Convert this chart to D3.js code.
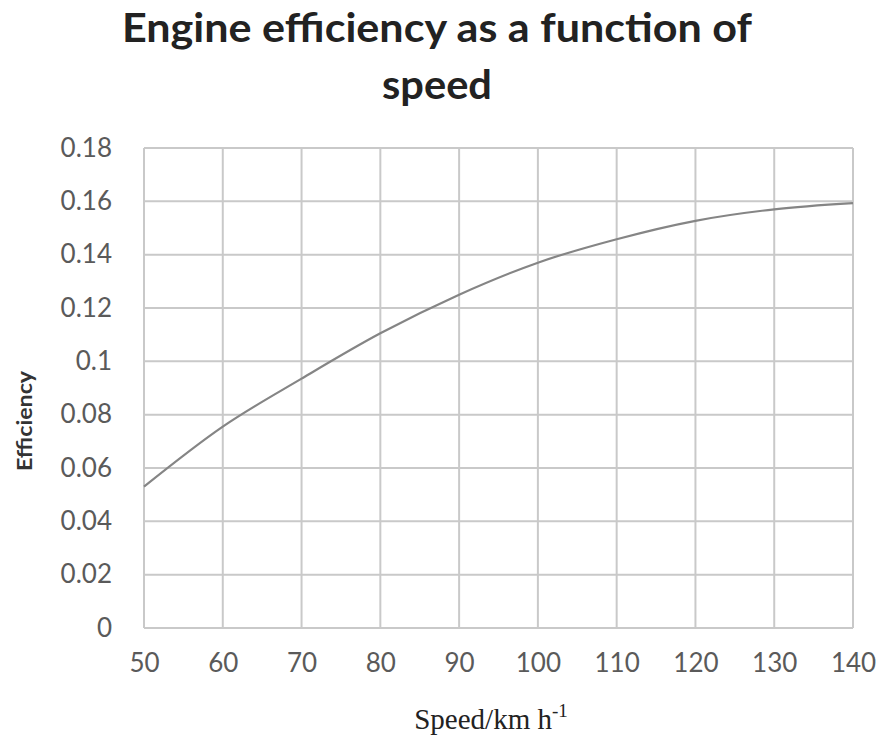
<!DOCTYPE html>
<html>
<head>
<meta charset="utf-8">
<script src="https://cdn.jsdelivr.net/npm/d3@7"></script>
<style>
  html, body { margin: 0; padding: 0; background: #fff; }
  svg { display: block; }
</style>
</head>
<body>
<svg id="chart" width="879" height="744"></svg>
<script>
// Speed (km/h) and engine efficiency
const speeds = [50, 60, 70, 80, 90, 100, 110, 120, 130, 140];
const efficiency = [0.053, 0.0755, 0.0935, 0.1105, 0.125, 0.137, 0.1458, 0.1527, 0.157, 0.1593];
const xTicks = [50, 60, 70, 80, 90, 100, 110, 120, 130, 140];
const yTicks = [0, 0.02, 0.04, 0.06, 0.08, 0.1, 0.12, 0.14, 0.16, 0.18];

const svg = d3.select("#chart");
const margin = { left: 144, right: 26, top: 148, bottom: 116 };
const W = 879, H = 744;
const innerW = W - margin.left - margin.right;
const innerH = H - margin.top - margin.bottom;

const x = d3.scaleLinear().domain([50, 140]).range([margin.left, margin.left + innerW]);
const y = d3.scaleLinear().domain([0, 0.18]).range([margin.top + innerH, margin.top]);

const gridColor = "#c9c9c9";
const labelColor = "#5a5a5a";
const sans = "Lato, 'Open Sans', sans-serif";

// Vertical grid lines
svg.append("g")
  .selectAll("line")
  .data(xTicks)
  .join("line")
  .attr("x1", d => x(d)).attr("x2", d => x(d))
  .attr("y1", y(0)).attr("y2", y(0.18))
  .attr("stroke", gridColor).attr("stroke-width", 2);

// Horizontal grid lines
svg.append("g")
  .selectAll("line")
  .data(yTicks)
  .join("line")
  .attr("x1", x(50)).attr("x2", x(140))
  .attr("y1", d => y(d)).attr("y2", d => y(d))
  .attr("stroke", gridColor).attr("stroke-width", 2);

// Y axis labels
const yAxis = d3.axisLeft(y).tickValues(yTicks).tickSize(0).tickPadding(32)
  .tickFormat(d => d === 0 ? "0" : String(+d.toFixed(2)));
svg.append("g")
  .attr("transform", `translate(${x(50)},0)`)
  .call(yAxis)
  .call(g => g.select(".domain").remove())
  .selectAll("text")
  .attr("font-family", sans)
  .attr("font-size", 26)
  .attr("fill", labelColor);

// X axis labels
const xAxis = d3.axisBottom(x).tickValues(xTicks).tickSize(0).tickPadding(26);
svg.append("g")
  .attr("transform", `translate(0,${y(0)})`)
  .call(xAxis)
  .call(g => g.select(".domain").remove())
  .selectAll("text")
  .attr("font-family", sans)
  .attr("font-size", 26)
  .attr("fill", labelColor);

// Efficiency curve
const line = d3.line()
  .x((d, i) => x(speeds[i]))
  .y(d => y(d))
  .curve(d3.curveMonotoneX);
svg.append("path")
  .datum(efficiency)
  .attr("d", line)
  .attr("fill", "none")
  .attr("stroke", "#858585")
  .attr("stroke-width", 2.2);

// Title
const title = svg.append("text")
  .attr("text-anchor", "middle")
  .attr("font-family", sans)
  .attr("font-weight", "bold")
  .attr("font-size", 40)
  .attr("fill", "#222");
title.append("tspan").attr("x", 437).attr("y", 42)
  .attr("textLength", 630).attr("lengthAdjust", "spacingAndGlyphs")
  .text("Engine efficiency as a function of");
title.append("tspan").attr("x", 437).attr("y", 99)
  .attr("textLength", 110).attr("lengthAdjust", "spacingAndGlyphs")
  .text("speed");

// Y axis title
svg.append("text")
  .attr("transform", "translate(32,421) rotate(-90)")
  .attr("text-anchor", "middle")
  .attr("font-family", sans)
  .attr("font-weight", "bold")
  .attr("font-size", 21)
  .attr("textLength", 100).attr("lengthAdjust", "spacingAndGlyphs")
  .attr("fill", "#333")
  .text("Efficiency");

// X axis title
const xt = svg.append("text")
  .attr("x", 491).attr("y", 729)
  .attr("text-anchor", "middle")
  .attr("font-family", "'Liberation Serif', 'Times New Roman', serif")
  .attr("font-size", 29)
  .attr("fill", "#222");
xt.append("tspan").text("Speed/km h");
xt.append("tspan").attr("dy", -12).attr("font-size", 19).text("-1");
</script>
</body>
</html>
